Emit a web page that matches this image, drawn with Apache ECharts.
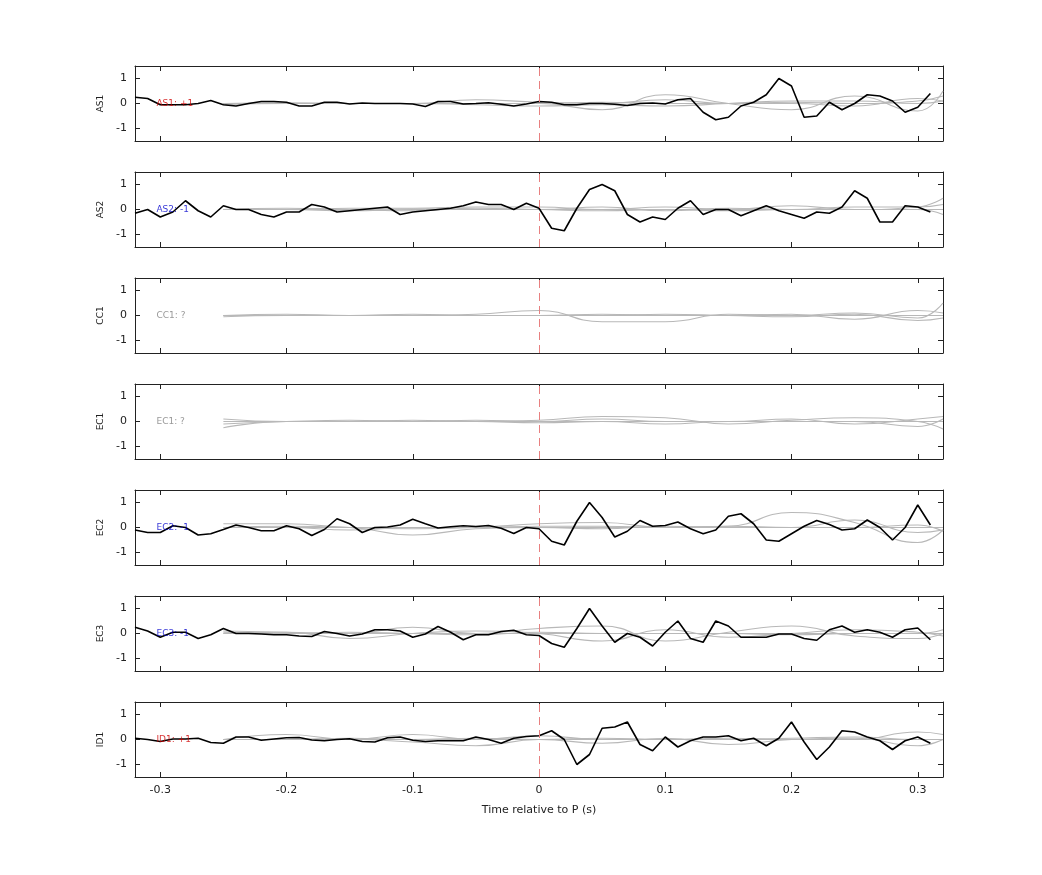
<!DOCTYPE html>
<html><head><meta charset="utf-8">
<script src="https://cdn.jsdelivr.net/npm/echarts@6/dist/echarts.min.js"></script>
<style>html,body{margin:0;padding:0;background:#fff}#c{width:1042px;height:875px}</style>
</head><body><div id="c"></div>
<script>
const stations = ['AS1','AS2','CC1','EC1','EC2','EC3','ID1'];
const polarity = ['+1','-1','?','?','-1','-1','+1'];
const xTicks = [-0.3,-0.2,-0.1,0,0.1,0.2,0.3];
const yTicks = [-1,0,1];
// black traces, t = -0.32 ... 0.31 step 0.01
const AS1 = [0.25,0.2,-0.05,-0.05,-0.05,0.0,0.12,-0.05,-0.1,0.0,0.08,0.08,0.05,-0.1,-0.1,0.05,0.05,-0.02,0.02,0.0,0.0,0.0,-0.02,-0.12,0.08,0.08,-0.02,0.0,0.03,-0.03,-0.1,-0.02,
 0.08,0.05,-0.05,-0.05,0.0,0.0,-0.03,-0.08,0.0,0.02,-0.02,0.15,0.2,-0.35,-0.65,-0.55,-0.1,0.05,0.35,1.0,0.7,-0.55,-0.5,0.05,-0.25,0.0,0.35,0.3,0.1,-0.35,-0.15,0.4];
const AS2 = [-0.15,0.0,-0.3,-0.1,0.35,-0.05,-0.3,0.15,0.0,0.0,-0.2,-0.3,-0.1,-0.1,0.2,0.1,-0.1,-0.05,0.0,0.05,0.1,-0.2,-0.1,-0.05,0.0,0.05,0.15,0.3,0.2,0.2,0.0,0.25,
 0.05,-0.75,-0.85,0.05,0.8,1.0,0.75,-0.2,-0.5,-0.3,-0.4,0.05,0.35,-0.2,0.0,0.0,-0.25,-0.05,0.15,-0.05,-0.2,-0.35,-0.1,-0.15,0.1,0.75,0.45,-0.5,-0.5,0.15,0.1,-0.1];
const EC2 = [-0.1,-0.2,-0.2,0.07,0.0,-0.3,-0.25,-0.08,0.1,0.0,-0.13,-0.13,0.07,-0.05,-0.32,-0.08,0.35,0.15,-0.2,0.0,0.02,0.1,0.33,0.15,-0.02,0.03,0.07,0.04,0.08,-0.03,-0.24,0.0,
 -0.05,-0.55,-0.7,0.25,1.0,0.4,-0.38,-0.15,0.28,0.05,0.08,0.22,-0.05,-0.25,-0.1,0.45,0.55,0.15,-0.5,-0.55,-0.25,0.05,0.28,0.12,-0.1,-0.05,0.3,0.0,-0.5,0.0,0.9,0.1];
const EC3 = [0.25,0.1,-0.15,0.05,0.05,-0.2,-0.05,0.2,0.0,0.0,-0.02,-0.05,-0.05,-0.1,-0.12,0.08,0.0,-0.1,-0.02,0.15,0.15,0.1,-0.15,-0.02,0.28,0.05,-0.25,-0.05,-0.05,0.08,0.13,-0.05,
 -0.08,-0.4,-0.55,0.2,1.0,0.3,-0.35,0.0,-0.15,-0.5,0.05,0.5,-0.2,-0.35,0.5,0.3,-0.15,-0.15,-0.15,-0.02,-0.02,-0.2,-0.27,0.15,0.3,0.05,0.15,0.05,-0.15,0.15,0.22,-0.25];
const ID1 = [0.05,0.0,-0.08,0.02,0.02,0.05,-0.12,-0.15,0.1,0.1,-0.03,0.02,0.07,0.08,-0.02,-0.05,0.0,0.03,-0.08,-0.1,0.07,0.1,-0.03,-0.08,-0.05,-0.05,-0.05,0.1,0.0,-0.15,0.05,0.12,
 0.15,0.35,0.0,-1.0,-0.6,0.45,0.5,0.7,-0.2,-0.45,0.1,-0.3,-0.05,0.1,0.1,0.15,-0.05,0.05,-0.25,0.05,0.7,-0.1,-0.8,-0.3,0.35,0.3,0.1,-0.05,-0.4,-0.05,0.1,-0.15];
const blackTraces = {AS1:AS1, AS2:AS2, EC2:EC2, EC3:EC3, ID1:ID1};
// gray traces at t = -0.25 ... 0.30 step 0.05, then 0.32
const grayT = [-0.25,-0.2,-0.15,-0.1,-0.05,0,0.05,0.1,0.15,0.2,0.25,0.3,0.32];
const grayAS1 = [
 [0,0,0,0,0,0,-0.25,0.35,0,-0.25,0.3,-0.3,0.5],
 [0,0,0,0,0.15,0.05,0,0.15,0,0,-0.1,0.2,0.1],
 [-0.05,0,0,0,-0.05,-0.1,-0.05,-0.1,0,0.1,0.1,0,0.1],
 [0,0.03,0,0,0,0,0.05,0,0,0.05,0,0.1,0.3]];
const grayAS2 = [
 [0,0,0.05,0.05,0.1,0.1,0,0.1,0,0.15,0,0.1,0.45],
 [0,0,-0.05,0,0,0,0.1,-0.05,0.05,0,0.1,0.1,0.2],
 [0,0.05,0,-0.05,0.05,0,-0.05,0,-0.05,0,0,0,-0.2],
 [0,0,0,0.02,0,0,0,0,0,0,0,0,0]];
const grayCC1 = [
 [0,0,0,0,0.05,0.2,-0.25,-0.25,0.05,0,0.1,-0.1,0.5],
 [0,0.05,0,0.05,0,0,0.05,0,0,0.05,-0.15,0.2,0.1],
 [-0.05,0,0,0,0,0,0,0.05,0,-0.05,0.05,-0.2,-0.1],
 [0,0,0,0,0,0,0,0,0,0,0,0,0]];
const grayEC1 = [
 [-0.25,0,0,0.05,0,0.05,0.2,0.15,-0.1,0.05,0.15,0,-0.3],
 [0.1,0,0,0,0.05,0,0.1,0,0,0.1,-0.1,0.1,0.2],
 [-0.1,0,0.05,0,0,-0.05,0,-0.1,0,0,0,-0.2,0.1],
 [0,0,0,0,0,0,0,0,0,0,0,0,0]];
const grayEC2 = [
 [0.15,0.15,0,-0.05,0,0.15,0.2,0.0,0.05,0.6,0.2,-0.6,-0.1],
 [0,0.05,0,-0.3,-0.05,0,-0.05,0.05,0,0,0.3,-0.2,-0.1],
 [0,0,-0.1,0,0,0.05,0.05,0,0.05,0,0,0.1,-0.15],
 [0,0,0,0,0,0,0,0,0,0,0,0,0]];
const grayEC3 = [
 [0.1,0.05,0,0.25,0,0.2,0.3,-0.3,0.05,0.3,-0.1,-0.2,0],
 [0,0.05,-0.2,0,0.1,0,-0.3,0.15,-0.15,0,0.15,0.05,-0.1],
 [0.05,0,0.05,0,-0.05,0.05,0,0,0,-0.05,0,0,0.15],
 [0,0,0,0,0,0,0,0,0,0,0,0,0]];
const grayID1 = [
 [0,0.2,0,0.2,0,0.15,0,0,0.05,0,0,0.3,0.2],
 [0,0,0,-0.1,-0.25,0,-0.15,0.05,-0.2,0,0.05,-0.25,0],
 [0,0,0.05,0,0.05,0,0.05,0,0,0.05,0.1,0,0],
 [0,0,0,0,0,0,0,0,0,0,0,0,0]];
const grayTraces = {AS1:grayAS1, AS2:grayAS2, CC1:grayCC1, EC1:grayEC1, EC2:grayEC2, EC3:grayEC3, ID1:grayID1};
const polColor = {'+1':'#d00000','-1':'#0000cc','?':'#808080'};

const chart = echarts.init(document.getElementById('c'));
const grids=[], xAxes=[], yAxes=[], series=[];
const FONT='"DejaVu Sans", sans-serif';
stations.forEach((st,i)=>{
  grids.push({left:135, width:808, top:66+106*i, height:75});
  const last = i===stations.length-1;
  const axLine={show:true,onZero:false,lineStyle:{color:'#222',width:1}};
  xAxes.push({type:'value',gridIndex:i,min:-0.32,max:0.32,position:'bottom',
    axisLine:axLine,splitLine:{show:false},
    axisTick:{inside:true,length:5,customValues:xTicks,lineStyle:{color:'#222'}},
    axisLabel:{show:last,customValues:xTicks,color:'#222',fontSize:11,fontFamily:FONT,margin:8},
    name:last?'Time relative to P (s)':'',nameLocation:'middle',nameGap:28,
    nameTextStyle:{color:'#222',fontSize:11,fontFamily:FONT}});
  xAxes.push({type:'value',gridIndex:i,min:-0.32,max:0.32,position:'top',
    axisLine:axLine,splitLine:{show:false},
    axisTick:{inside:true,length:5,customValues:xTicks,lineStyle:{color:'#222'}},
    axisLabel:{show:false}});
  yAxes.push({type:'value',gridIndex:i,min:-1.5,max:1.5,position:'left',
    axisLine:axLine,splitLine:{show:false},
    axisTick:{inside:true,length:5,customValues:yTicks,lineStyle:{color:'#222'}},
    axisLabel:{customValues:yTicks,color:'#222',fontSize:11,fontFamily:FONT,margin:8},
    name:st,nameLocation:'middle',nameGap:30,nameRotate:90,
    nameTextStyle:{color:'#222',fontSize:9,fontFamily:FONT}});
  yAxes.push({type:'value',gridIndex:i,min:-1.5,max:1.5,position:'right',
    axisLine:axLine,splitLine:{show:false},
    axisTick:{inside:true,length:5,customValues:yTicks,lineStyle:{color:'#222'}},
    axisLabel:{show:false}});
  const xi=2*i, yi=2*i;
  grayTraces[st].forEach(g=>{
    series.push({type:'line',xAxisIndex:xi,yAxisIndex:yi,smooth:0.5,symbol:'none',silent:true,
      lineStyle:{color:'#b8b8b8',width:1.1},data:grayT.map((t,k)=>[t,g[k]])});
  });
  series.push({type:'line',xAxisIndex:xi,yAxisIndex:yi,data:[[0,0]],symbol:'none',lineStyle:{opacity:0},
    markLine:{silent:true,symbol:'none',label:{show:false},
      lineStyle:{color:'#e88080',type:[8,5],width:1},data:[{xAxis:0}]}});
  if(blackTraces[st]){
    series.push({type:'line',xAxisIndex:xi,yAxisIndex:yi,symbol:'none',silent:true,
      lineStyle:{color:'#000',width:1.6},
      data:blackTraces[st].map((v,k)=>[Math.round((-0.32+0.01*k)*100)/100,v])});
  }
  series.push({type:'scatter',xAxisIndex:xi,yAxisIndex:yi,symbolSize:0,silent:true,z:10,
    data:[[-0.303,0]],
    label:{show:true,position:'right',distance:0,formatter:st+': '+polarity[i],
      color:polColor[polarity[i]],fontSize:9,fontFamily:FONT}});
});
chart.setOption({animation:false,backgroundColor:'#fff',grid:grids,xAxis:xAxes,yAxis:yAxes,series:series});
</script></body></html>
